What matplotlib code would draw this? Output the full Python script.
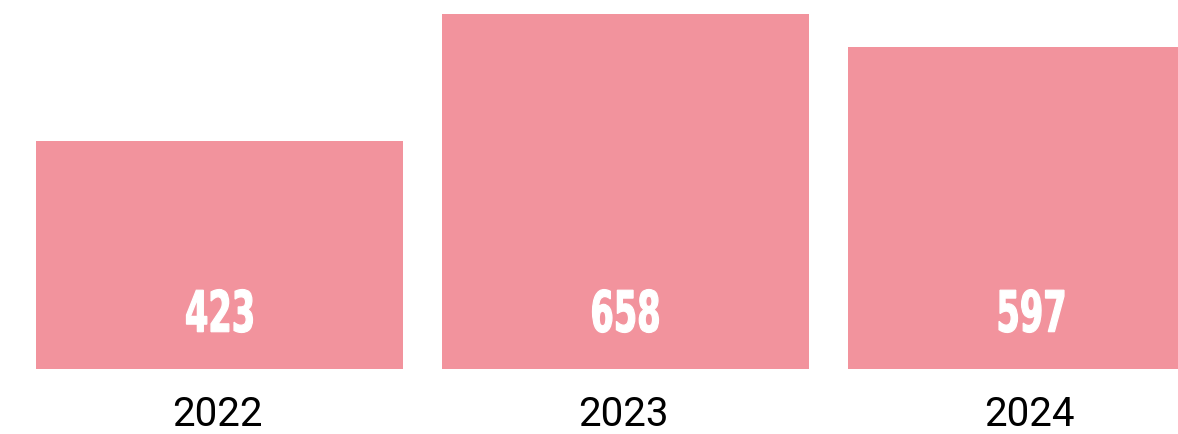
import numpy as np
import matplotlib.pyplot as plt
from matplotlib.textpath import TextPath
from matplotlib.patches import PathPatch
from matplotlib.font_manager import FontProperties
import matplotlib.transforms as mtransforms

years = ["2022", "2023", "2024"]
values = [423, 658, 597]

bar_color = "#F2939D"

fig = plt.figure(figsize=(11.78, 4.34), dpi=100)
ax = fig.add_axes([0, 65 / 434, 1, 1 - 65 / 434])

x = np.arange(len(years))
ax.bar(x, values, width=367 / 406, color=bar_color)

ax.set_xlim(-0.5406, 2.3608)
ax.set_ylim(0, 684)
ax.axis("off")

# condensed bold numbers: squeeze a bold text path sideways
fp = FontProperties(family="DejaVu Sans", weight="bold")
ref = TextPath((0, 0), "423", size=100, prop=fp).get_extents()
sx = 66 / ref.width
sy = 43 / ref.height
for xi, v in zip(x, values):
    tp = TextPath((0, 0), str(v), size=100, prop=fp)
    ext = tp.get_extents()
    tr = (mtransforms.Affine2D()
          .translate(-(ext.x0 + ext.width / 2), -(ext.y0 + ext.height / 2))
          .scale(sx, sy)
          .translate(0, 58)
          + mtransforms.ScaledTranslation(xi, 0, ax.transData))
    ax.add_patch(PathPatch(tp, transform=tr, facecolor="white",
                           edgecolor="white", linewidth=0.9, clip_on=False))

# year labels below
for xi, y in zip(x, years):
    ax.annotate(y, (xi - 0.005, 0), xytext=(0, -46 * 0.72), textcoords="offset points",
                ha="center", va="center", color="black", fontsize=29,
                family=["Roboto", "DejaVu Sans"], annotation_clip=False)

fig.savefig("out.png", dpi=100)
